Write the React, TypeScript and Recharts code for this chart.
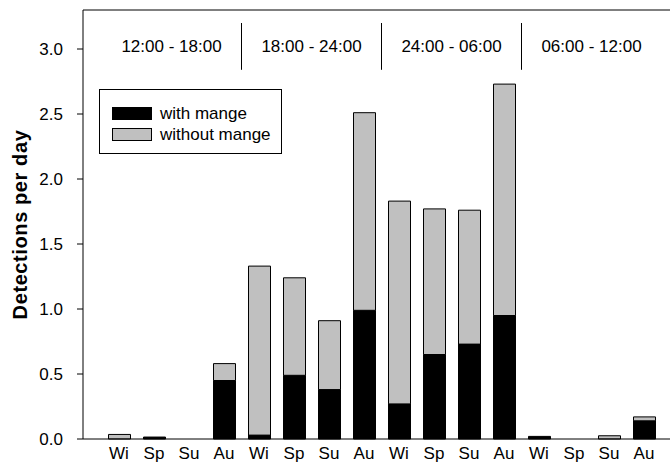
import { BarChart, Bar, XAxis, YAxis, ReferenceLine, ReferenceArea } from "recharts"

// seasons within each time-of-day block
const categories = [
  "Wi", "Sp", "Su", "Au",
  "Wi", "Sp", "Su", "Au",
  "Wi", "Sp", "Su", "Au",
  "Wi", "Sp", "Su", "Au",
]

const withMange = [
  0, 0.015, 0, 0.45,
  0.03, 0.49, 0.38, 0.99,
  0.27, 0.65, 0.73, 0.95,
  0.02, 0, 0, 0.14,
]

const withoutMange = [
  0.035, 0, 0, 0.13,
  1.3, 0.75, 0.53, 1.52,
  1.56, 1.12, 1.03, 1.78,
  0, 0, 0.025, 0.03,
]

const timeBlocks = ["12:00 - 18:00", "18:00 - 24:00", "24:00 - 06:00", "06:00 - 12:00"]
const yTicks = [0, 0.5, 1, 1.5, 2, 2.5, 3]

const data = categories.map((name, i) => ({
  name,
  slot: i + 0.5,
  withMange: withMange[i],
  withoutMange: withoutMange[i],
}))

const font = "'Liberation Sans', Arial, sans-serif"
const pad = { left: 18.5, right: 8.5 }

function LegendBox() {
  const items = [
    { label: "with mange", fill: "#000000" },
    { label: "without mange", fill: "#c0c0c0" },
  ]
  return (
    <div
      style={{
        position: "absolute",
        left: 99,
        top: 89,
        width: 183,
        height: 65,
        border: "1px solid #000",
        boxSizing: "border-box",
        background: "#fff",
        fontFamily: font,
        fontSize: 17,
        paddingTop: 13,
      }}
    >
      {items.map((it) => (
        <div key={it.label} style={{ display: "flex", alignItems: "center", height: 21, paddingLeft: 12 }}>
          <span
            style={{
              display: "inline-block",
              width: 40,
              height: 13,
              boxSizing: "border-box",
              background: it.fill,
              border: "1px solid #000",
              marginRight: 8,
            }}
          />
          <span style={{ color: "#000" }}>{it.label}</span>
        </div>
      ))}
    </div>
  )
}

export default function App() {
  return (
    <div style={{ position: "absolute", left: 0, top: 0, width: 670, height: 464, background: "#fff" }}>
      <BarChart width={670} height={464} data={data} margin={{ top: 10, right: 0, left: 0, bottom: 0 }} barSize={22}>
        <XAxis
          dataKey="name"
          height={25}
          tickLine={false}
          axisLine={{ stroke: "#000" }}
          tick={{ fill: "#000", fontSize: 17, fontFamily: font }}
          tickMargin={2}
          padding={pad}
          interval={0}
        />
        <XAxis xAxisId="grp" dataKey="slot" type="number" domain={[0, 16]} allowDataOverflow hide padding={pad} />
        <YAxis
          width={83}
          domain={[0, 3.3]}
          ticks={yTicks}
          tickFormatter={(v: number) => v.toFixed(1)}
          axisLine={{ stroke: "#000" }}
          tickLine={{ stroke: "#000" }}
          tickSize={6}
          tickMargin={14}
          tick={{ fill: "#000", fontSize: 17, fontFamily: font }}
          label={{
            value: "Detections per day",
            angle: -90,
            position: "insideLeft",
            offset: 0,
            dx: 20,
            style: {
              textAnchor: "middle",
              fontWeight: "bold",
              fontSize: 20,
              letterSpacing: 0.6,
              fontFamily: font,
              fill: "#000",
            },
          }}
        />
        <ReferenceLine y={3.3} stroke="#000" />
        {[4, 8, 12].map((x) => (
          <ReferenceLine
            key={x}
            xAxisId="grp"
            segment={[{ x, y: 2.84 }, { x, y: 3.2 }]}
            stroke="#000"
          />
        ))}
        {timeBlocks.map((t, i) => (
          <ReferenceArea
            key={t}
            xAxisId="grp"
            x1={i * 4}
            x2={i * 4 + 4}
            y1={2.84}
            y2={3.2}
            ifOverflow="visible"
            fill="none"
            stroke="none"
            label={{ value: t, position: "center", fill: "#000", fontSize: 17, fontFamily: font }}
          />
        ))}
        <Bar dataKey="withMange" stackId="a" fill="#000000" stroke="#000" strokeWidth={1} isAnimationActive={false} />
        <Bar dataKey="withoutMange" stackId="a" fill="#c0c0c0" stroke="#000" strokeWidth={1} isAnimationActive={false} />
      </BarChart>
      <LegendBox />
    </div>
  )
}
